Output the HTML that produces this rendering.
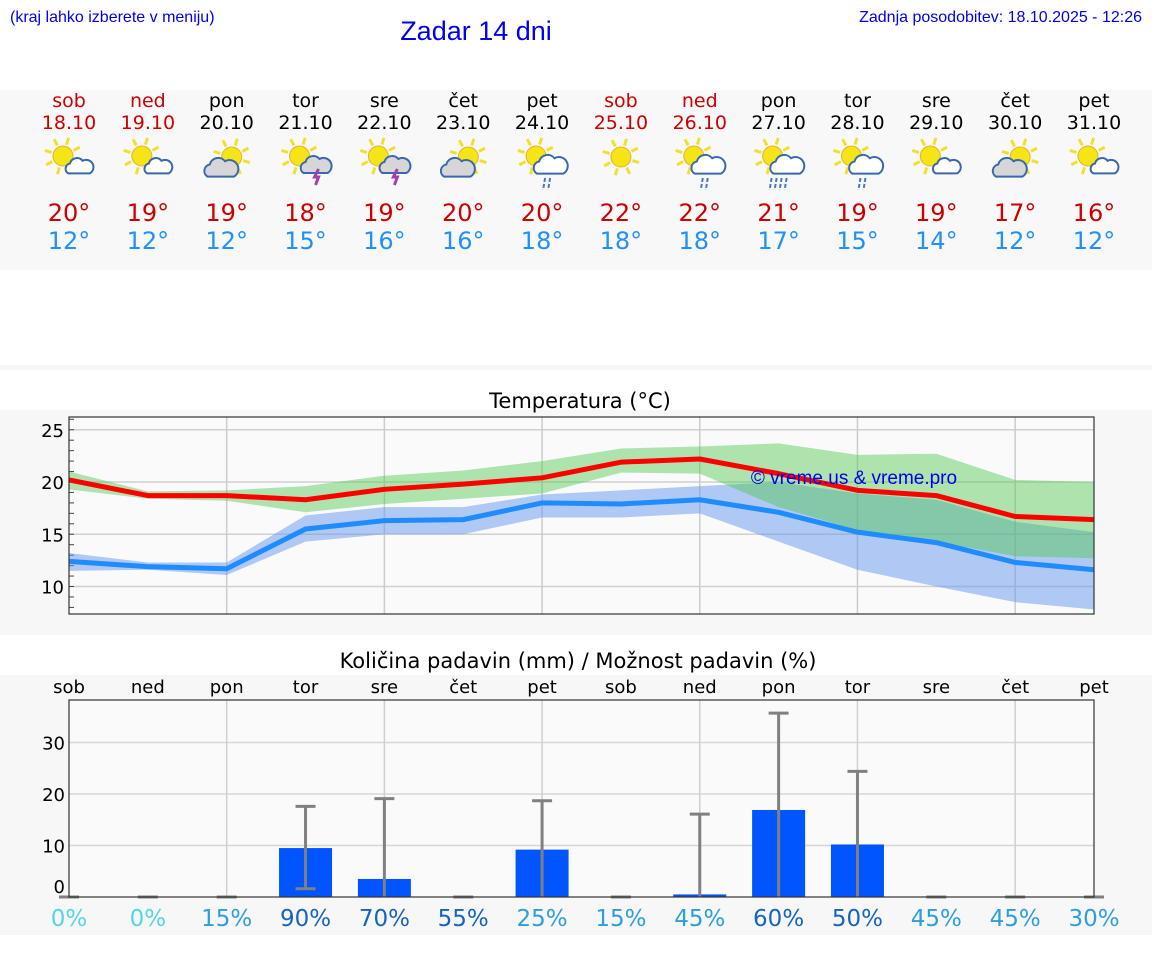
<!DOCTYPE html>
<html><head><meta charset="utf-8">
<style>
body{margin:0;width:1152px;height:975px;background:#fff;overflow:hidden;font-family:"DejaVu Sans","Liberation Sans",sans-serif;}
svg{display:block}
</style></head>
<body>
<svg id="s" width="1152" height="975" xmlns="http://www.w3.org/2000/svg">
  <rect x="0" y="90" width="1152" height="180" fill="#f8f8f8"/>
  <rect x="0" y="365" width="1152" height="5" fill="#f6f6f6"/>
  <rect x="0" y="410" width="1152" height="225" fill="#f7f7f7"/>
  <rect x="0" y="675" width="1152" height="260" fill="#f7f7f7"/>
  <text x="10" y="22" font-family="Liberation Sans, sans-serif" font-size="16" fill="#0000ee">(kraj lahko izberete v meniju)</text>
  <text x="476" y="40" text-anchor="middle" font-family="Liberation Sans, sans-serif" font-size="27" fill="#0000ee">Zadar 14 dni</text>
  <text x="1142" y="22" text-anchor="end" font-family="Liberation Sans, sans-serif" font-size="16" fill="#0000ee">Zadnja posodobitev: 18.10.2025 - 12:26</text>
  <g id="hdr"></g>
  <text x="580" y="408" text-anchor="middle" font-size="21" fill="#000">Temperatura (°C)</text>
  <g id="tchart"></g>
  <text x="578" y="668" text-anchor="middle" font-size="21" fill="#000">Količina padavin (mm) / Možnost padavin (%)</text>
  <g id="pchart"></g>
</svg>
<script>
const days=["sob","ned","pon","tor","sre","čet","pet","sob","ned","pon","tor","sre","čet","pet"];
const dates=["18.10","19.10","20.10","21.10","22.10","23.10","24.10","25.10","26.10","27.10","28.10","29.10","30.10","31.10"];
const weekend=[1,1,0,0,0,0,0,1,1,0,0,0,0,0];
const icons=["pc","pc","cs","th","th","cs","rn","sun","rn","hr","rn","pc","cs","pc"];
const maxT=[20.2,18.7,18.7,18.3,19.3,19.8,20.4,21.9,22.2,20.8,19.2,18.7,16.7,16.4];
const minT=[12.4,11.9,11.7,15.5,16.3,16.4,18.0,17.9,18.3,17.1,15.2,14.2,12.3,11.6];
const maxLo=[19.3,18.4,18.2,17.1,17.9,18.4,18.9,20.9,20.8,17.6,15.4,14.3,12.9,12.7];
const maxHi=[21.0,19.1,19.2,19.6,20.6,21.1,22.0,23.2,23.4,23.7,22.6,22.7,20.2,20.0];
const minLo=[11.5,11.6,11.1,14.3,15.0,15.0,16.6,16.6,17.0,14.3,11.6,10.0,8.5,7.8];
const minHi=[13.2,12.3,12.3,16.8,17.6,17.6,18.8,19.2,19.6,20.0,18.9,18.3,16.2,15.2];
const maxLabel=["20°","19°","19°","18°","19°","20°","20°","22°","22°","21°","19°","19°","17°","16°"];
const minLabel=["12°","12°","12°","15°","16°","16°","18°","18°","18°","17°","15°","14°","12°","12°"];
const tTicks=[10,15,20,25];
const rain=[0,0,0,9.5,3.5,0,9.2,0,0.5,16.9,10.2,0,0,0];
const rainLo=[0,0,0,1.6,0,0,0,0,0,0,0,0,0,0];
const rainHi=[0,0,0,17.6,19.1,0,18.7,0,16.1,35.7,24.4,0,0,0];
const chance=[0,0,15,90,70,55,25,15,45,60,50,45,45,30];
const pTicks=[0,10,20,30];
const NS="http://www.w3.org/2000/svg";
function mk(p,t,a,txt){const e=document.createElementNS(NS,t);for(const k in a)e.setAttribute(k,a[k]);if(txt!==undefined)e.textContent=txt;p.appendChild(e);return e;}
const X0=69,X1=1094;
const xp=i=>X0+i*(X1-X0)/13;
const hdr=document.getElementById('hdr');
function sun(g,cx,cy,r){for(let k=0;k<8;k++){const a=k*Math.PI/4+0.3;mk(g,'line',{x1:cx+Math.cos(a)*(r+2),y1:cy+Math.sin(a)*(r+2),x2:cx+Math.cos(a)*(r+9),y2:cy+Math.sin(a)*(r+9),stroke:'#f2e030','stroke-width':3});}
 mk(g,'circle',{cx:cx,cy:cy,r:r,fill:'#f5e516',stroke:'#e8b030','stroke-width':1});}
function cloud(g,cx,cy,s,fill){mk(g,'path',{d:`M${cx-12*s} ${cy+6*s} a${6*s} ${6*s} 0 0 1 ${2*s} ${-11*s} a${8*s} ${8*s} 0 0 1 ${14*s} ${-3*s} a${6*s} ${6*s} 0 0 1 ${8*s} ${14*s} z`,fill:fill,stroke:'#3a68b0','stroke-width':2});}
for(let i=0;i<14;i++){
  const x=xp(i);const col=weekend[i]?'#cc0000':'#000';
  const t1=mk(hdr,'text',{x:x,y:107,'text-anchor':'middle','font-size':19,fill:col},days[i]);
  
  const t2=mk(hdr,'text',{x:x,y:129,'text-anchor':'middle','font-size':19,fill:col},dates[i]);
  
  const g=mk(hdr,'g',{});
  
  const ic=icons[i];
  if(ic==='cs'){sun(g,x+5,157,10);cloud(g,x-6,170,1.1,'#d6d6d6');}
  else if(ic==='sun'){sun(g,x,157,10);}
  else {sun(g,x-6,156,10);
    if(ic==='pc')cloud(g,x+10,168,0.9,'#fff');
    else if(ic==='th'){cloud(g,x+10,167,1,'#d6d6d6');mk(g,'path',{d:`M${x+13} ${169} l-4 8 h4 l-3 8`,stroke:'#a040b0','stroke-width':3,fill:'none'});}
    else {cloud(g,x+8,167,1.1,'#fff');for(let k=0;k<(ic==='hr'?4:2);k++)mk(g,'line',{x1:x+3+k*5-(ic==='hr'?10:0),y1:178,x2:x+1+k*5-(ic==='hr'?10:0),y2:190,stroke:'#4a78c0','stroke-width':2,'stroke-dasharray':'4 2'});}
  }
  const t3=mk(hdr,'text',{x:x,y:221,'text-anchor':'middle','font-size':24,fill:'#cc0000'},maxLabel[i]);
  
  const t4=mk(hdr,'text',{x:x,y:249,'text-anchor':'middle','font-size':24,fill:'#1e90ff'},minLabel[i]);
  
}
const tc=document.getElementById('tchart');
const TY0=417,TY1=614;
const ty=v=>482-(v-20)*10.45;
mk(tc,'rect',{x:X0,y:TY0,width:X1-X0,height:TY1-TY0,fill:'#fafafa'});
for(const v of tTicks){mk(tc,'line',{x1:X0,x2:X1,y1:ty(v),y2:ty(v),stroke:'#d0d0d0','stroke-width':1.5});
  const t=mk(tc,'text',{x:X0-5,y:ty(v)+7,'text-anchor':'end','font-size':18,fill:'#000'},String(v));
  }
for(let v=8;v<=26;v++){mk(tc,'line',{x1:X0,x2:X0+5,y1:ty(v),y2:ty(v),stroke:'#444','stroke-width':1});}
for(let i=2;i<14;i+=2)mk(tc,'line',{x1:xp(i),x2:xp(i),y1:TY0,y2:TY1,stroke:'#ccc','stroke-width':1.5});
function band(lo,hi,fill,name){let d='M';for(let i=0;i<14;i++)d+=xp(i)+' '+ty(hi[i])+' L';for(let i=13;i>=0;i--)d+=xp(i)+' '+ty(lo[i])+(i?' L':' Z');
  const p=mk(tc,'path',{d:d,fill:fill});}
band(minLo,minHi,'rgba(100,149,237,0.5)','min-temp-range');
band(maxLo,maxHi,'rgba(80,200,80,0.45)','max-temp-range');
function line(v,col,name){const p=mk(tc,'polyline',{points:v.map((y,i)=>xp(i)+','+ty(y)).join(' '),fill:'none',stroke:col,'stroke-width':5,'stroke-linejoin':'round'});
  }
line(minT,'#1e8cff','min-temp-line');line(maxT,'#ff0000','max-temp-line');
const wm=mk(tc,'text',{x:854,y:484,'text-anchor':'middle','font-family':'Liberation Sans, sans-serif','font-size':19,fill:'#0000ee'},'© vreme.us & vreme.pro');

mk(tc,'rect',{x:X0,y:TY0,width:X1-X0,height:TY1-TY0,fill:'none',stroke:'#333','stroke-width':1.2});
const pc=document.getElementById('pchart');
const PY0=700,PY1=897;
const py=v=>897-v*5.15;
mk(pc,'rect',{x:X0,y:PY0,width:X1-X0,height:PY1-PY0,fill:'#fafafa'});
for(const v of pTicks){if(v>0)mk(pc,'line',{x1:X0,x2:X1,y1:py(v),y2:py(v),stroke:'#d6d6d6','stroke-width':1.5});
  const t=mk(pc,'text',{x:X0-4,y:(v?py(v)+7:893),'text-anchor':'end','font-size':18,fill:'#000'},String(v));
  }
for(let i=2;i<14;i+=2)mk(pc,'line',{x1:xp(i),x2:xp(i),y1:PY0,y2:PY1,stroke:'#d0d0d0','stroke-width':1.5});
for(let i=0;i<14;i++){
  const x=xp(i);
  const t=mk(pc,'text',{x:x,y:693,'text-anchor':'middle','font-size':18,fill:'#000'},days[i]);
  
  if(rain[i]>0){const b=mk(pc,'rect',{x:x-26.5,y:py(rain[i]),width:53,height:py(0)-py(rain[i]),fill:'#0055ff'});
    }
  const e=mk(pc,'g',{stroke:'#808080','stroke-width':3});
  
  mk(e,'line',{x1:x,x2:x,y1:py(rainLo[i]),y2:py(rainHi[i])});
  mk(e,'line',{x1:x-10,x2:x+10,y1:py(rainHi[i]),y2:py(rainHi[i])});
  if(rainLo[i]>0)mk(e,'line',{x1:x-10,x2:x+10,y1:py(rainLo[i]),y2:py(rainLo[i])});
  const c=chance[i];const col=c===0?'#55d5ea':(c<50?'#2e9ee0':'#1565c0');
  const pt=mk(pc,'text',{x:x,y:926,'text-anchor':'middle','font-size':23,fill:col},c+'%');
  
}
mk(pc,'rect',{x:X0,y:PY0,width:X1-X0,height:PY1-PY0,fill:'none',stroke:'#333','stroke-width':1.2});
</script>
</body></html>
